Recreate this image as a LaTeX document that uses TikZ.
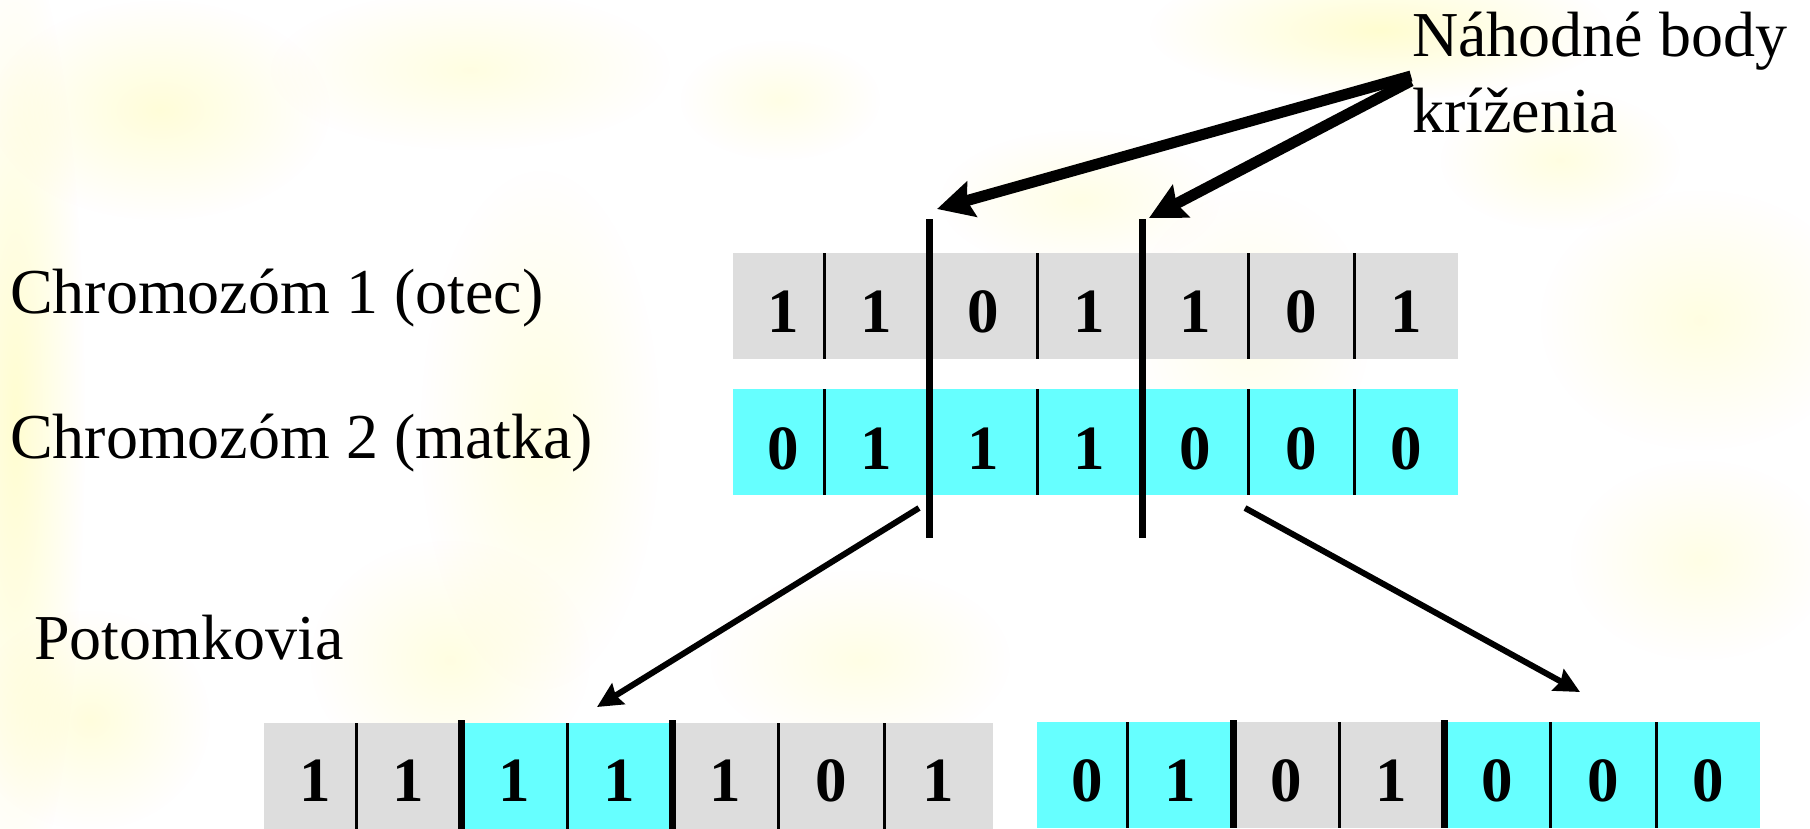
\documentclass[tikz,border=0pt]{standalone}
\usepackage{fontspec}
\setmainfont{Liberation Serif}
\usetikzlibrary{arrows.meta,fadings}

\definecolor{genegray}{HTML}{DDDDDD}
\definecolor{genecyan}{HTML}{66FFFF}
\definecolor{haze}{RGB}{255,252,170}

\tikzfading[name=blobfade, inner color=transparent!0, outer color=transparent!100]

\begin{document}
\begin{tikzpicture}[x=1pt,y=-1pt,
  lbl/.style={inner sep=0pt, anchor=base west, font=\fontsize{64}{76}\selectfont},
  cell/.style={inner sep=0pt, minimum height=106, anchor=north west, draw=none},
  digit/.style={inner sep=0pt, font=\fontsize{63}{70}\selectfont\bfseries},
  divider/.style={line width=2.2pt},
  cutline/.style={line width=7pt},
  bigarrow/.style={line width=11pt, -{Stealth[length=36pt, width=36pt, inset=5pt]}},
  smallarrow/.style={line width=6pt, -{Stealth[length=25pt, width=24pt, inset=3pt]}}
]
\useasboundingbox (0,0) rectangle (1810,828);
\clip (0,0) rectangle (1810,828);

% soft yellowish backdrop
\fill[white] (0,0) rectangle (1810,828);
\foreach \bx/\by/\ra/\rb/\op in {
  15/420/70/480/0.55, 160/110/170/110/0.45, 470/70/200/80/0.35,
  540/430/120/260/0.35, 450/660/140/120/0.35, 1380/30/230/70/0.55,
  1700/320/160/130/0.35, 860/660/150/90/0.3, 1250/330/120/140/0.25,
  1560/160/120/70/0.35, 90/720/120/110/0.4, 1080/200/140/70/0.3,
  1700/560/130/100/0.3, 780/100/100/60/0.3}
  \fill[haze, opacity=\op, path fading=blobfade] (\bx,\by) ellipse ({\ra} and {\rb});

% labels
\node[lbl] (chrom1) at (10,313) {Chromozóm 1 (otec)};
\node[lbl] (chrom2) at (10,458) {Chromozóm 2 (matka)};
\node[lbl] (offs) at (34,659) {Potomkovia};
\node[lbl] (rand1) at (1412,56) {Náhodné body};
\node[lbl] (rand2) at (1412,132) {kríženia};

% parent chromosomes
\foreach \n/\l/\r/\v in {1/733/824/1, 2/824/929/1, 3/929/1037/0, 4/1037/1142/1,
                         5/1142/1248/1, 6/1248/1354/0, 7/1354/1458/1} {
  \node[cell, fill=genegray, minimum width=\r-\l] (f\n) at (\l,253) {};
  \node[digit] (fd\n) at ({(\l+\r)/2+5*(\n==1)},312) {\v};
}
\foreach \n/\l/\r/\v in {1/733/824/0, 2/824/929/1, 3/929/1037/1, 4/1037/1142/1,
                         5/1142/1248/0, 6/1248/1354/0, 7/1354/1458/0} {
  \node[cell, fill=genecyan, minimum width=\r-\l] (m\n) at (\l,389) {};
  \node[digit] (md\n) at ({(\l+\r)/2+5*(\n==1)},449) {\v};
}

% offspring chromosomes
\foreach \n/\l/\r/\c/\v in {1/264/356/genegray/1, 2/356/461/genegray/1, 3/461/567/genecyan/1,
                            4/567/672/genecyan/1, 5/672/778/genegray/1, 6/778/884/genegray/0,
                            7/884/993/genegray/1} {
  \node[cell, fill=\c, minimum width=\r-\l] (a\n) at (\l,723) {};
  \node[digit] (ad\n) at ({(\l+\r)/2+5*(\n==1)},781) {\v};
}
\foreach \n/\l/\r/\c/\v in {1/1037/1127/genecyan/0, 2/1127/1233/genecyan/1, 3/1233/1339/genegray/0,
                            4/1339/1444/genegray/1, 5/1444/1550/genecyan/0, 6/1550/1656/genecyan/0,
                            7/1656/1760/genecyan/0} {
  \node[cell, fill=\c, minimum width=\r-\l] (b\n) at (\l,722) {};
  \node[digit] (bd\n) at ({(\l+\r)/2+5*(\n==1)},781) {\v};
}

% thin gene separators
\foreach \n in {1,...,6} {
  \draw[divider] (f\n.north east) -- (f\n.south east);
  \draw[divider] (m\n.north east) -- (m\n.south east);
  \draw[divider] (a\n.north east) -- (a\n.south east);
  \draw[divider] (b\n.north east) -- (b\n.south east);
}

% crossover points
\coordinate (cutA-top) at (929.5,219);
\coordinate (cutA-bot) at (929.5,538);
\coordinate (cutB-top) at (1142,219);
\coordinate (cutB-bot) at (1142,538);
\draw[cutline] (cutA-top) -- (cutA-bot);
\draw[cutline] (cutB-top) -- (cutB-bot);

\foreach \n in {2,4} {
  \draw[line width=6.5pt] ([yshift=3pt]a\n.north east) -- (a\n.south east);
  \draw[line width=6.5pt] ([yshift=2pt]b\n.north east) -- (b\n.south east);
}

% arrows from the caption to the crossover points
\coordinate (srcA) at (1411,76);
\coordinate (srcB) at (1411,81);
\coordinate (tipA) at (937,209);
\coordinate (tipB) at (1149,218);
\draw[bigarrow] (srcA) -- (tipA);
\draw[bigarrow] (srcB) -- (tipB);

% arrows to the offspring
\coordinate (kidA-src) at (919,508);
\coordinate (kidA-tip) at (597,707);
\coordinate (kidB-src) at (1245,508);
\coordinate (kidB-tip) at (1580,692);
\draw[smallarrow] (kidA-src) -- (kidA-tip);
\draw[smallarrow] (kidB-src) -- (kidB-tip);
\end{tikzpicture}
\end{document}
